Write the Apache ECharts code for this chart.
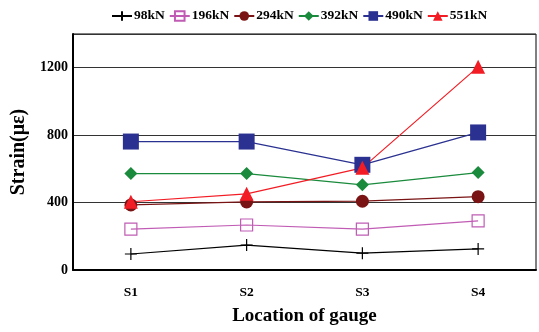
<!DOCTYPE html>
<html><head><meta charset="utf-8">
<script src="https://cdn.jsdelivr.net/npm/echarts@6/dist/echarts.min.js"></script>
<style>html,body{margin:0;padding:0;background:#fff}#c{width:539px;height:332px}</style>
</head><body><div id="c"></div>
<script>
const categories = ['S1','S2','S3','S4'];
const s98 = [95, 148, 100, 125];
const s196 = [243, 267, 243, 291];
const s294 = [386, 404, 408, 435];
const s392 = [572, 572, 505, 578];
const s490 = [762, 762, 624, 816];
const s551 = [405, 452, 606, 1205];
const yTicks = [0, 400, 800, 1200];

const font = 'Liberation Serif, Times New Roman, serif';
const cross = 'path://M0,5L10,5M5,0L5,10';
function ser(name, data, color, symbol, size, fill) {
  return {
    name, type: 'line', data, symbol, symbolSize: size,
    lineStyle: { color, width: 1.2 },
    itemStyle: fill ? { color, borderColor: color, borderWidth: 0 } : { color: 'rgba(0,0,0,0)', borderColor: color, borderWidth: 1.2 },
    color, emphasis: { disabled: true }, z: 3
  };
}
const chart = echarts.init(document.getElementById('c'));
chart.setOption({
  animation: false,
  grid: { left: 73, right: 3, top: 34, bottom: 62, show: true, borderColor: '#000', borderWidth: 1, backgroundColor: 'transparent' },
  legend: {
    top: 4, left: 106, itemGap: 4, itemWidth: 20, itemHeight: 12,
    textStyle: { fontFamily: font, fontWeight: 'bold', fontSize: 13.5, color: '#000', padding: [0, 0, 0, -3] },
    data: ['98kN','196kN','294kN','392kN','490kN','551kN']
  },
  xAxis: {
    type: 'category', data: categories, boundaryGap: true,
    axisLine: { lineStyle: { color: '#000', width: 2 } },
    axisTick: { inside: true, length: 4, lineStyle: { color: '#000' } },
    axisLabel: { fontFamily: font, fontWeight: 'bold', fontSize: 13.5, color: '#000', margin: 16 },
    name: 'Location of gauge', nameLocation: 'middle', nameGap: 37,
    nameTextStyle: { fontFamily: font, fontWeight: 'bold', fontSize: 19, color: '#000' }
  },
  yAxis: {
    type: 'value', min: 0, max: 1400, interval: 400,
    axisLine: { show: true, lineStyle: { color: '#000', width: 2 } },
    axisTick: { show: false },
    splitLine: { show: true, lineStyle: { color: '#333', width: 1 } },
    axisLabel: { fontFamily: font, fontWeight: 'bold', fontSize: 14, color: '#000', margin: 5,
      formatter: v => yTicks.includes(v) ? String(v) : '' },
    name: 'Strain(με)', nameLocation: 'middle', nameGap: 37, nameRotate: 90,
    nameTextStyle: { fontFamily: font, fontWeight: 'bold', fontSize: 20, color: '#000' }
  },
  series: [
    ser('98kN', s98, '#000000', cross, 12, false),
    ser('196kN', s196, '#c05cb4', 'rect', 12, false),
    ser('294kN', s294, '#7a1414', 'circle', 13, true),
    ser('392kN', s392, '#1a8a3c', 'diamond', 13, true),
    ser('490kN', s490, '#2a3190', 'rect', 16, true),
    ser('551kN', s551, '#f21c24', 'triangle', 14, true)
  ]
});
</script></body></html>
